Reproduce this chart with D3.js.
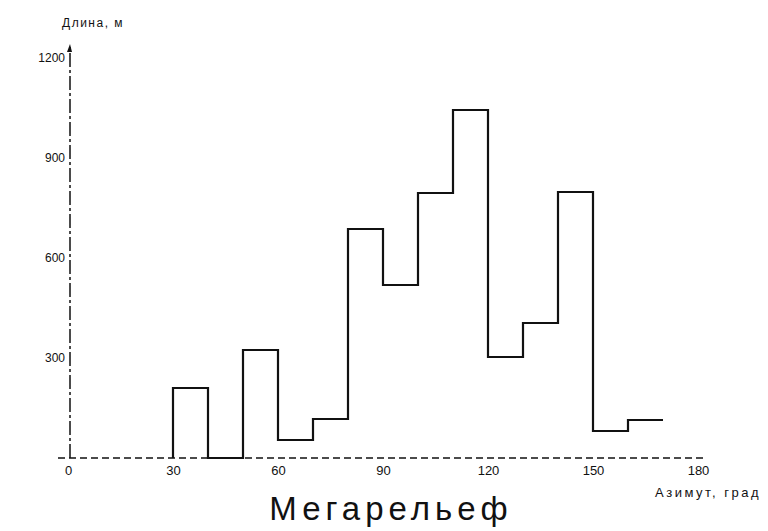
<!DOCTYPE html>
<html><head><meta charset="utf-8">
<script src="https://cdn.jsdelivr.net/npm/d3@7/dist/d3.min.js"></script>
<style>
html,body{margin:0;padding:0;background:#fff;}
svg{display:block;}
</style></head>
<body>
<svg id="chart" width="768" height="531"></svg>
<script>
// Azimuth bins (degrees, start of each 10° bin)
const binStarts = [0,10,20,30,40,50,60,70,80,90,100,110,120,130,140,150,160];
// Total length per bin, m
const lengths = [0,0,0,210,0,324,54,117,687,519,795,1044,303,405,798,81,114];
const binWidth = 10;
const xTicks = [0,30,60,90,120,150,180];
const yTicks = [300,600,900,1200];
const yTitle = "Длина, м";
const xTitle = "Азимут, град";
const chartTitle = "Мегарельеф";

const svg = d3.select("#chart");
const x = d3.scaleLinear().domain([0,180]).range([68,698]);
const y = d3.scaleLinear().domain([0,1200]).range([458,58]);
const font = "'Liberation Sans Narrow','Liberation Sans',Arial,sans-serif";

// X axis
const xAxis = svg.append("g").attr("transform",`translate(0,${y(0)})`)
  .call(d3.axisBottom(x).tickValues(xTicks).tickSize(0).tickPadding(8).tickFormat(d3.format("d")));
xAxis.select(".domain").remove();
xAxis.selectAll("text").attr("font-family",font).attr("font-size",13).attr("fill","#111");
svg.append("line").attr("x1",x(0)-10).attr("x2",x(180)+7).attr("y1",y(0)).attr("y2",y(0))
  .attr("stroke","#111").attr("stroke-width",1.5).attr("stroke-dasharray","7,4");

// Y axis
const yAxis = svg.append("g").attr("transform",`translate(${x(0)+2},0)`)
  .call(d3.axisLeft(y).tickValues(yTicks).tickSize(0).tickPadding(5).tickFormat(d3.format("d")));
yAxis.select(".domain").remove();
yAxis.selectAll("text").attr("font-family",font).attr("font-size",12).attr("fill","#111");
svg.append("line").attr("x1",x(0)+2).attr("x2",x(0)+2).attr("y1",y(0)).attr("y2",y(1200)-13)
  .attr("stroke","#111").attr("stroke-width",1.5).attr("stroke-dasharray","14,3,3,3");
svg.append("path").attr("d",`M${x(0)-1},${y(1200)-6} L${x(0)+2},${y(1200)-14} L${x(0)+4},${y(1200)-6}Z`).attr("fill","#111");

// Histogram step line
const pts = [];
binStarts.forEach((b,i)=>{ if(b>=30){ pts.push([b,lengths[i]]); } });
pts.push([binStarts[binStarts.length-1]+binWidth, lengths[lengths.length-1]]);
const line = d3.line().x(d=>x(d[0])).y(d=>y(d[1])).curve(d3.curveStepAfter);
const full = [[30,0]].concat(pts);
svg.append("path").datum(full).attr("d",line).attr("fill","none")
  .attr("stroke","#111").attr("stroke-width",2.2).attr("stroke-linejoin","miter");

// Titles
svg.append("text").attr("x",62).attr("y",27).text(yTitle)
  .attr("font-family","'Liberation Sans',Arial,sans-serif").attr("font-size",12).attr("letter-spacing",1.5).attr("fill","#111");
svg.append("text").attr("x",655).attr("y",497).text(xTitle)
  .attr("font-family","'Liberation Sans',Arial,sans-serif").attr("font-size",13).attr("letter-spacing",2.5).attr("fill","#111");
svg.append("text").attr("x",391).attr("y",520).attr("text-anchor","middle").text(chartTitle)
  .attr("font-family","'Liberation Sans',Arial,sans-serif").attr("font-size",33).attr("letter-spacing",5).attr("fill","#111");
</script>
</body></html>
